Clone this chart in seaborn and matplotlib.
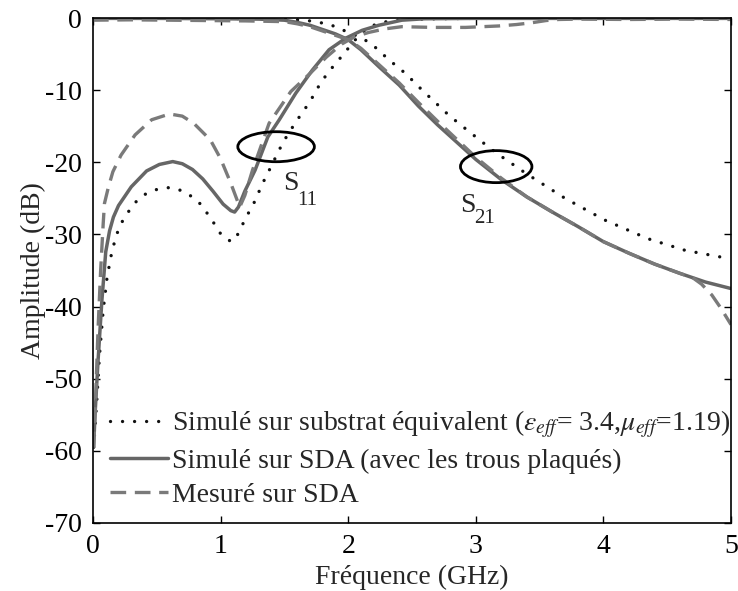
import matplotlib
matplotlib.use("Agg")
import matplotlib.pyplot as plt
from matplotlib.patches import Ellipse
from matplotlib.lines import Line2D
import seaborn as sns

# ---- data (frequency in GHz, amplitude in dB) ----
# S11, equivalent substrate simulation
f_s11_eq = [0.005, 0.03, 0.05, 0.08, 0.11, 0.15, 0.19, 0.24, 0.30, 0.35, 0.42, 0.51,
            0.60, 0.69, 0.77, 0.85, 0.95, 1.00, 1.05, 1.09, 1.12, 1.17, 1.21, 1.26,
            1.33, 1.37, 1.49, 1.59, 1.70, 1.79, 1.90, 1.97, 2.03, 2.11, 2.20, 2.30,
            2.45, 2.70, 3.00, 3.50, 4.00, 4.50, 5.00]
s11_eq = [-59.5, -53.0, -47.0, -40.5, -36.0, -32.2, -29.8, -27.8, -26.3, -25.2, -24.3, -23.7,
          -23.5, -23.9, -24.7, -25.9, -28.5, -29.9, -30.7, -31.0, -30.5, -28.7, -27.3, -25.7,
          -22.9, -21.5, -17.2, -14.4, -11.6, -8.8, -6.3, -4.9, -3.5, -2.0, -1.0, -0.5,
          -0.2, -0.1, -0.05, -0.05, -0.05, -0.05, -0.05]

# S21, equivalent substrate simulation
f_s21_eq = [0.0, 0.5, 1.0, 1.4, 1.6, 1.7, 1.8, 1.87, 1.95, 2.03, 2.11, 2.19, 2.32, 2.45,
            2.58, 2.79, 2.93, 3.08, 3.16, 3.39, 3.70, 4.01, 4.35, 4.64, 5.00]
s21_eq = [0.0, 0.0, -0.05, -0.1, -0.25, -0.4, -0.7, -1.0, -1.6, -2.2, -2.8, -3.7, -5.8, -7.7,
          -10.0, -13.5, -15.5, -17.6, -18.7, -21.5, -25.0, -28.0, -30.6, -32.2, -33.4]

# S11, SDA simulation (plated holes)
f_s11_sda = [0.005, 0.016, 0.04, 0.07, 0.10, 0.13, 0.16, 0.20, 0.30, 0.42, 0.52, 0.625,
             0.70, 0.78, 0.86, 0.94, 1.02, 1.08, 1.11, 1.14, 1.19, 1.27, 1.37, 1.46,
             1.59, 1.72, 1.85, 1.98, 2.11, 2.24, 2.42, 2.60, 3.00, 3.50, 4.00, 4.50, 5.00]
s11_sda = [-59.5, -55.0, -47.4, -39.1, -32.4, -29.5, -27.6, -26.0, -23.4, -21.2, -20.3, -19.9,
           -20.2, -21.0, -22.3, -24.0, -25.8, -26.7, -26.9, -26.2, -24.0, -21.1, -16.5, -14.1,
           -10.4, -7.2, -4.4, -2.8, -1.7, -1.0, -0.3, -0.1, -0.05, -0.05, -0.05, -0.05, -0.05]

# S21, SDA simulation (plated holes)
f_s21_sda = [0.0, 0.5, 1.0, 1.3, 1.5, 1.6, 1.7, 1.8, 1.9, 2.0, 2.1, 2.25, 2.4, 2.55, 2.7,
             2.85, 3.0, 3.2, 3.4, 3.6, 3.8, 4.0, 4.2, 4.4, 4.6, 4.8, 5.0]
s21_sda = [-0.05, -0.05, -0.1, -0.15, -0.3, -0.6, -1.0, -1.6, -2.2, -3.0, -4.4, -6.9, -9.3,
           -12.2, -14.8, -17.2, -19.6, -22.4, -24.8, -26.9, -28.9, -31.0, -32.6, -34.1,
           -35.4, -36.6, -37.5]

# S11, measured on SDA
f_s11_meas = [0.005, 0.02, 0.04, 0.06, 0.08, 0.09, 0.12, 0.156, 0.22, 0.33, 0.46, 0.60,
              0.70, 0.79, 0.92, 1.00, 1.08, 1.15, 1.19, 1.25, 1.38, 1.55, 1.70, 1.83,
              1.95, 2.05, 2.16, 2.29, 2.42, 2.66, 2.92, 3.18, 3.32, 3.44, 3.55, 3.65,
              3.80, 4.20, 4.60, 5.00]
s11_meas = [-59.5, -53.0, -43.0, -35.0, -28.5, -25.7, -23.5, -21.3, -19.0, -16.2, -14.1, -13.3,
            -13.6, -14.6, -16.9, -19.5, -22.9, -26.2, -24.6, -21.1, -14.6, -10.2, -7.7, -5.4,
            -3.6, -2.6, -2.0, -1.5, -1.2, -1.3, -1.3, -1.1, -0.9, -0.65, -0.35, -0.2,
            -0.15, -0.2, -0.15, -0.2]

# S21, measured on SDA
f_s21_meas = [0.0, 0.3, 0.6, 0.9, 1.2, 1.5, 1.6, 1.7, 1.8, 1.9, 2.0, 2.1, 2.25, 2.4, 2.55,
              2.7, 2.85, 3.0, 3.2, 3.4, 3.6, 3.8, 4.0, 4.2, 4.4, 4.6, 4.7, 4.77, 4.85,
              4.92, 5.0]
s21_meas = [-0.3, -0.25, -0.3, -0.35, -0.4, -0.5, -0.8, -1.2, -1.8, -2.4, -3.0, -4.2, -6.6,
            -9.0, -11.7, -14.3, -16.8, -19.3, -22.2, -24.8, -26.9, -28.9, -31.0, -32.6,
            -34.1, -35.4, -36.0, -36.9, -38.4, -40.2, -42.5]

legend_labels = [
    r"Simulé sur substrat équivalent ($\varepsilon_{eff}$= 3.4,$\mu_{eff}$=1.19)",
    "Simulé sur SDA (avec les trous plaqués)",
    "Mesuré sur SDA",
]
x_ticks = [0, 1, 2, 3, 4, 5]
y_ticks = [0, -10, -20, -30, -40, -50, -60, -70]

# ---- style ----
sns.set_style("ticks")
plt.rcParams["font.family"] = ["Liberation Serif", "DejaVu Serif"]
plt.rcParams["mathtext.fontset"] = "stix"
plt.rcParams["axes.unicode_minus"] = False

fig = plt.figure(figsize=(7.38, 5.91), dpi=100)
ax = fig.add_axes([0.126, 0.1151, 0.8645, 0.8544])

dot_kw = dict(color="#111111", linewidth=2.4, linestyle=(0, (0.01, 3.6)),
              dash_capstyle="round")
solid_kw = dict(color="#666666", linewidth=2.5, linestyle="-")
dash_kw = dict(color="#7a7a7a", linewidth=2.4, linestyle=(0, (4.7, 2.6)),
               dash_capstyle="butt")

sns.lineplot(x=f_s21_eq, y=s21_eq, ax=ax, sort=False, **dot_kw)
sns.lineplot(x=f_s11_eq, y=s11_eq, ax=ax, sort=False, **dot_kw)
sns.lineplot(x=f_s21_sda, y=s21_sda, ax=ax, sort=False, **solid_kw)
sns.lineplot(x=f_s11_sda, y=s11_sda, ax=ax, sort=False, **solid_kw)
sns.lineplot(x=f_s21_meas, y=s21_meas, ax=ax, sort=False, **dash_kw)
sns.lineplot(x=f_s11_meas, y=s11_meas, ax=ax, sort=False, **dash_kw)

ax.set_xlim(0, 5)
ax.set_ylim(-70, 0)
ax.set_xticks(x_ticks)
ax.set_yticks(y_ticks)
ax.set_xticklabels([str(v) for v in x_ticks])
ax.set_yticklabels([str(v) for v in y_ticks])
ax.tick_params(direction="in", length=5, width=1.0, top=True, right=True,
               labelsize=20, colors="black")
ax.tick_params(axis="x", pad=8)
ax.tick_params(axis="y", pad=8)
for sp in ax.spines.values():
    sp.set_color("black")
    sp.set_linewidth(1.2)
    sp.set_visible(True)

ax.set_xlabel("Fréquence (GHz)", fontsize=20, labelpad=4)
ax.set_ylabel("Amplitude (dB)", fontsize=20, labelpad=-1)

# ellipses marking the S-parameter groups
ax.add_patch(Ellipse((1.435, -17.84), 0.60, 4.16, fill=False, edgecolor="black",
                     linewidth=2.0, zorder=5))
ax.add_patch(Ellipse((3.16, -20.6), 0.56, 4.44, fill=False, edgecolor="black",
                     linewidth=2.0, zorder=5))
ax.text(1.487, -23.84, "S", fontsize=20, ha="left", va="baseline")
ax.text(1.604, -25.92, "11", fontsize=15, ha="left", va="baseline")
ax.text(2.88, -26.85, "S", fontsize=20, ha="left", va="baseline")
ax.text(2.984, -28.46, "21", fontsize=15, ha="left", va="baseline")

handles = [Line2D([], [], **dot_kw), Line2D([], [], **solid_kw), Line2D([], [], **dash_kw)]
ax.legend(handles=handles, labels=legend_labels, loc="lower left",
          bbox_to_anchor=(0.0266, 0.03), frameon=False, borderpad=0,
          borderaxespad=0, handlelength=2.1, handletextpad=0.15,
          labelspacing=0.3, fontsize=20)

fig.savefig("out.png", dpi=100)
